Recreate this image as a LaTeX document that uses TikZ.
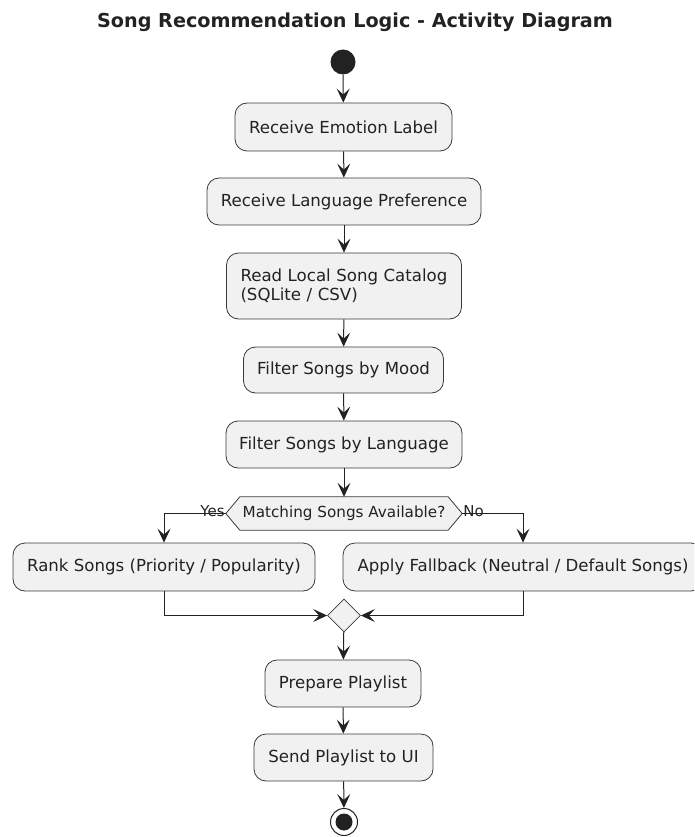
\documentclass[tikz,border=0pt]{standalone}
\usepackage{fontspec}
\setmainfont{DejaVu Sans}
\usetikzlibrary{arrows.meta,shapes.geometric}
\definecolor{boxfill}{HTML}{F1F1F1}
\definecolor{edge}{HTML}{3A3A3A}
\definecolor{ink}{HTML}{222222}
\tikzset{
  act/.style={draw=edge, line width=0.8pt, fill=boxfill, rounded corners=12pt,
    inner sep=0pt, text=ink, font=\fontsize{16.6}{19}\selectfont, align=center},
  flow/.style={draw=ink, line width=1pt, -{Stealth[length=14pt,width=13pt,inset=6pt]}},
  lbl/.style={text=ink, font=\fontsize{15}{17}\selectfont, inner sep=0pt}
}
\begin{document}
\begin{tikzpicture}[x=1pt,y=-1pt]
\useasboundingbox (0,0) rectangle (694,837);
\clip (0,0) rectangle (694,837);

\node[text=ink, font=\bfseries\fontsize{19.2}{22}\selectfont] (title) at (355,22) {Song Recommendation Logic - Activity Diagram};

% start node
\node[circle, fill=ink, minimum size=25pt, inner sep=0pt] (start) at (343,62) {};

% activities
\node[act, minimum width=217pt, minimum height=48pt] (emo) at (343.5,127) {Receive Emotion Label};
\node[act, minimum width=274pt, minimum height=47pt] (lang) at (344,201.5) {Receive Language Preference};
\node[act, minimum width=235pt, minimum height=66pt, text width=207pt, align=left] (cat) at (344,286)
  {Read Local Song Catalog\\(SQLite / CSV)};
\node[act, minimum width=200pt, minimum height=46pt] (mood) at (343.5,370) {Filter Songs by Mood};
\node[act, minimum width=236pt, minimum height=47pt] (flang) at (344,444.5) {Filter Songs by Language};

% decision
\node[minimum width=236pt, minimum height=33pt, inner sep=0pt] (dec) at (344,513.5) {};
\draw[draw=edge, line width=0.8pt, fill=boxfill]
  (dec.west) -- ([xshift=14pt]dec.north west) -- ([xshift=-14pt]dec.north east)
  -- (dec.east) -- ([xshift=-14pt]dec.south east) -- ([xshift=14pt]dec.south west) -- cycle;
\node[text=ink, font=\fontsize{15.2}{18}\selectfont] at (dec) {Matching Songs Available?};

\node[act, minimum width=302pt, minimum height=48pt] (rank) at (164,567) {Rank Songs (Priority / Popularity)};
\node[act, minimum width=360pt, minimum height=48pt] (fall) at (523,567) {Apply Fallback (Neutral / Default Songs)};

% merge
\node[diamond, draw=edge, line width=0.8pt, fill=boxfill, minimum width=33pt, minimum height=33pt, inner sep=0pt] (merge) at (344,615.5) {};

\node[act, minimum width=156pt, minimum height=47pt] (prep) at (343,683.5) {Prepare Playlist};
\node[act, minimum width=179pt, minimum height=47pt] (send) at (343.5,757.5) {Send Playlist to UI};

% end node
\node[circle, draw=ink, line width=1pt, fill=white, minimum size=27pt, inner sep=0pt] (stop) at (344,822) {};
\fill[ink] (stop) circle (8.5pt);

% connectors
\draw[flow] (start) -- (emo);
\draw[flow] (emo) -- (lang);
\draw[flow] (lang) -- (cat);
\draw[flow] (cat) -- (mood);
\draw[flow] (mood) -- (flang);
\draw[flow] (flang) -- (dec);
\draw[flow] (dec.west) -| (rank.north);
\draw[flow] (dec.east) -| (fall.north);
\draw[flow] (rank.south) |- (merge.west);
\draw[flow] (fall.south) |- (merge.east);
\draw[flow] (merge) -- (prep);
\draw[flow] (prep) -- (send);
\draw[flow] (send) -- (stop);

\node[lbl, anchor=south east] (yes) at ([xshift=-1pt,yshift=-3pt]dec.west) {Yes};
\node[lbl, anchor=south west] (no) at ([xshift=1pt,yshift=-3pt]dec.east) {No};
\end{tikzpicture}
\end{document}
